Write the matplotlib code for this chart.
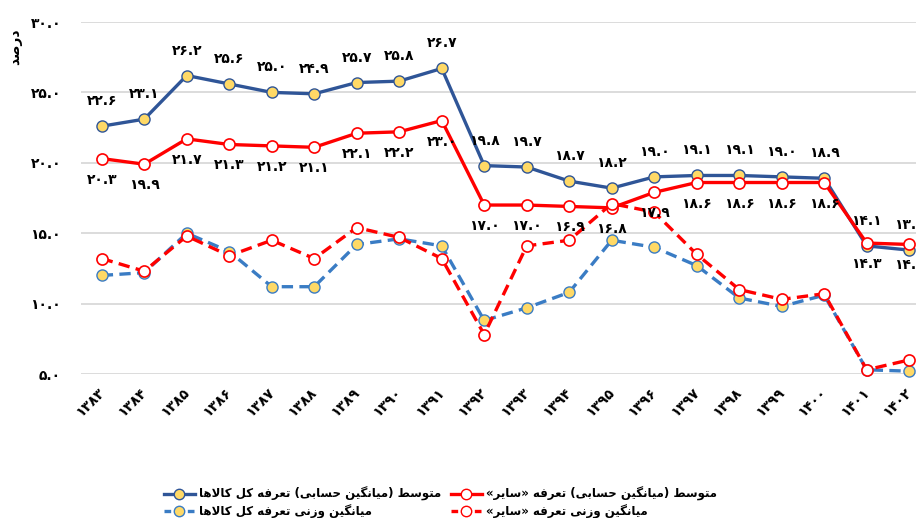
import matplotlib
matplotlib.use("Agg")
import matplotlib.pyplot as plt
from matplotlib.lines import Line2D

# data
years = list(range(1383, 1403))
avg_all = [22.6, 23.1, 26.2, 25.6, 25.0, 24.9, 25.7, 25.8, 26.7, 19.8,
           19.7, 18.7, 18.2, 19.0, 19.1, 19.1, 19.0, 18.9, 14.1, 13.8]
avg_other = [20.3, 19.9, 21.7, 21.3, 21.2, 21.1, 22.1, 22.2, 23.0, 17.0,
             17.0, 16.9, 16.8, 17.9, 18.6, 18.6, 18.6, 18.6, 14.3, 14.2]
w_all = [12.0, 12.2, 15.0, 13.7, 11.2, 11.2, 14.2, 14.6, 14.1, 8.8,
         9.7, 10.8, 14.5, 14.0, 12.7, 10.4, 9.8, 10.6, 5.3, 5.2]
w_other = [13.2, 12.3, 14.8, 13.4, 14.5, 13.2, 15.4, 14.7, 13.2, 7.8,
           14.1, 14.5, 17.1, 16.5, 13.5, 11.0, 10.3, 10.7, 5.3, 6.0]

label_avg_all = "متوسط (میانگین حسابی) تعرفه کل کالاها"
label_avg_other = "متوسط (میانگین حسابی) تعرفه «سایر»"
label_w_all = "میانگین وزنی تعرفه کل کالاها"
label_w_other = "میانگین وزنی تعرفه «سایر»"
y_title = "درصد"

# --- minimal Persian shaping (matplotlib has no RTL / joining support) ---
FORMS = {
    'ا': (0xFE8D, 0xFE8E, None, None),
    'ب': (0xFE8F, 0xFE90, 0xFE91, 0xFE92),
    'ت': (0xFE95, 0xFE96, 0xFE97, 0xFE98),
    'ح': (0xFEA1, 0xFEA2, 0xFEA3, 0xFEA4),
    'د': (0xFEA9, 0xFEAA, None, None),
    'ر': (0xFEAD, 0xFEAE, None, None),
    'ز': (0xFEAF, 0xFEB0, None, None),
    'س': (0xFEB1, 0xFEB2, 0xFEB3, 0xFEB4),
    'ص': (0xFEB9, 0xFEBA, 0xFEBB, 0xFEBC),
    'ط': (0xFEC1, 0xFEC2, 0xFEC3, 0xFEC4),
    'ع': (0xFEC9, 0xFECA, 0xFECB, 0xFECC),
    'ف': (0xFED1, 0xFED2, 0xFED3, 0xFED4),
    'ک': (0xFB8E, 0xFB8F, 0xFB90, 0xFB91),
    'گ': (0xFB92, 0xFB93, 0xFB94, 0xFB95),
    'ل': (0xFEDD, 0xFEDE, 0xFEDF, 0xFEE0),
    'م': (0xFEE1, 0xFEE2, 0xFEE3, 0xFEE4),
    'ن': (0xFEE5, 0xFEE6, 0xFEE7, 0xFEE8),
    'ه': (0xFEE9, 0xFEEA, 0xFEEB, 0xFEEC),
    'و': (0xFEED, 0xFEEE, None, None),
    'ی': (0xFBFC, 0xFBFD, 0xFBFE, 0xFBFF),
    'LA': (0xFEFB, 0xFEFC, None, None),
}
MIRROR = {'(': ')', ')': '(', '«': '»', '»': '«'}


def fa(text):
    toks = []
    i = 0
    while i < len(text):
        if text[i] == 'ل' and i + 1 < len(text) and text[i + 1] == 'ا':
            toks.append('LA')
            i += 2
        else:
            toks.append(text[i])
            i += 1
    out = []
    for k, t in enumerate(toks):
        if t not in FORMS:
            out.append(t)
            continue
        prev = toks[k - 1] if k > 0 else None
        nxt = toks[k + 1] if k + 1 < len(toks) else None
        jp = prev in FORMS and FORMS[prev][2] is not None
        jn = FORMS[t][2] is not None and nxt in FORMS
        iso, fin, ini, med = FORMS[t]
        if jp and jn:
            c = med
        elif jp:
            c = fin
        elif jn:
            c = ini
        else:
            c = iso
        out.append(chr(c))
    return ''.join(MIRROR.get(c, c) for c in reversed(out))


FA_DIGITS = str.maketrans('0123456789', '۰۱۲۳۴۵۶۷۸۹')


def fa_num(s):
    return str(s).translate(FA_DIGITS)


plt.rcParams['font.family'] = ['DejaVu Sans']
plt.rcParams['font.weight'] = 'bold'

fig = plt.figure(figsize=(9.16, 5.18), dpi=100)
ax = fig.add_axes([80.5 / 916, 1 - 374 / 518, (916 - 80.5) / 916, (374 - 22) / 518])

x = list(range(len(years)))
dark_blue = '#2F5597'
light_blue = '#3A7CC4'
red = '#FF0000'
yellow = '#FFD966'
dash = (0, (3.4, 1.9))

ax.plot(x, avg_all, color=dark_blue, lw=2.4, marker='o', ms=8,
        mfc=yellow, mec=dark_blue, mew=1, zorder=3, clip_on=False)
ax.plot(x, avg_other, color=red, lw=2.4, marker='o', ms=8,
        mfc='white', mec=red, mew=1.2, zorder=4, clip_on=False)
ax.plot(x, w_all, color=light_blue, lw=2.4, ls=dash, marker='o', ms=8,
        mfc=yellow, mec=light_blue, mew=1, zorder=5, clip_on=False)
ax.plot(x, w_other, color=red, lw=2.4, ls=dash, marker='o', ms=8,
        mfc='white', mec=red, mew=1.2, zorder=6, clip_on=False)

for xi, v in zip(x, avg_all):
    ax.annotate(fa_num(f"{v:.1f}"), (xi, v), xytext=(0, 25), textcoords='offset pixels',
                ha='center', va='center', fontsize=10, fontweight='bold', zorder=7)
for xi, v in zip(x, avg_other):
    ax.annotate(fa_num(f"{v:.1f}"), (xi, v), xytext=(0, -21), textcoords='offset pixels',
                ha='center', va='center', fontsize=10, fontweight='bold', zorder=7)

ax.set_xlim(-0.5, (916 - 101.7) / 42.5)
ax.set_ylim(5, 30)
ax.set_yticks([5, 10, 15, 20, 25, 30])
ax.set_yticklabels([fa_num(f"{t:.1f}") for t in [5, 10, 15, 20, 25, 30]],
                   fontsize=10, fontweight='bold')
ax.set_xticks(x)
ax.set_xticklabels([fa_num(y) for y in years], rotation=45, ha='right', va='center',
                   rotation_mode='anchor', fontsize=10, fontweight='bold')
ax.tick_params(axis='both', length=0)
ax.tick_params(axis='y', pad=14)
ax.tick_params(axis='x', pad=12)
ax.grid(axis='y', color='#D9D9D9', lw=1.3)
ax.set_axisbelow(True)
for s in ax.spines.values():
    s.set_visible(False)

fig.text(15 / 916, 1 - 47 / 518, fa(y_title), rotation=90, ha='center', va='center',
         fontsize=10, fontweight='bold')

handles = [
    Line2D([], [], color=dark_blue, lw=2.4, marker='o', ms=7.5, mfc=yellow, mec=dark_blue),
    Line2D([], [], color=light_blue, lw=2.4, ls=(0, (2, 1.5)), marker='o', ms=7.5,
           mfc=yellow, mec=light_blue),
    Line2D([], [], color=red, lw=2.4, marker='o', ms=7.5, mfc='white', mec=red),
    Line2D([], [], color=red, lw=2.4, ls=(0, (2, 1.5)), marker='o', ms=7.5,
           mfc='white', mec=red),
]
labels = [fa(label_avg_all), fa(label_w_all), fa(label_avg_other), fa(label_w_other)]
fig.legend(handles, labels, ncol=2, loc='upper left',
           bbox_to_anchor=(158 / 916, 1 - 481 / 518), frameon=False,
           handlelength=2.6, handletextpad=0.4, columnspacing=0.8,
           labelspacing=0.3, borderpad=0, prop={'size': 8.5, 'weight': 'bold'})

fig.savefig('out.png', dpi=100)
